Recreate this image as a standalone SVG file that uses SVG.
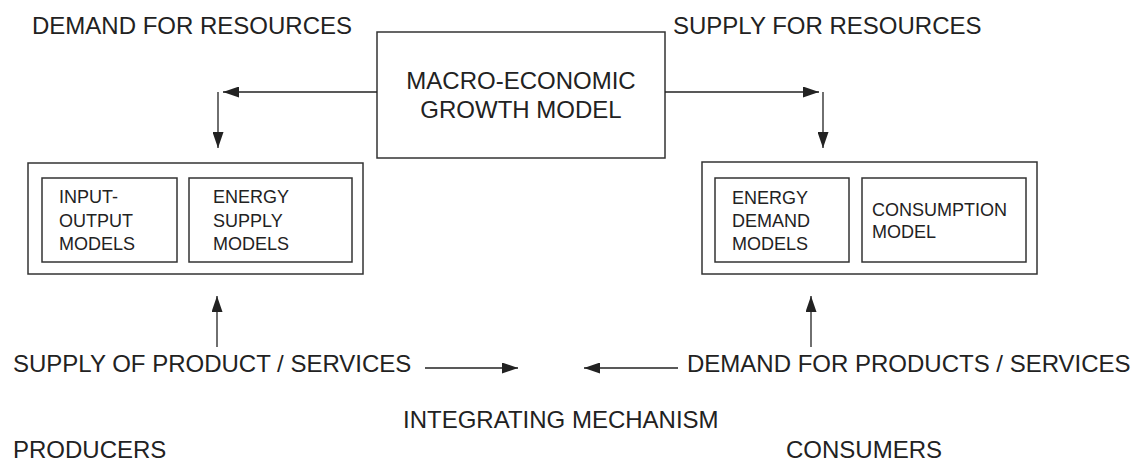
<svg xmlns="http://www.w3.org/2000/svg" width="1137" height="464" viewBox="0 0 1137 464">
<style>
  text { font-family: "Liberation Sans", Arial, sans-serif; fill: #222; }
  .big { font-size: 24px; }
  .small { font-size: 18px; }
  .box { fill: #fff; stroke: #333; stroke-width: 1.5; }
  .conn { fill: none; stroke: #222; stroke-width: 1.3; }
</style>
<defs>
  <marker id="arrow" viewBox="0 0 16 11" refX="16" refY="5.5" markerWidth="16" markerHeight="11" markerUnits="userSpaceOnUse" orient="auto">
    <path d="M0,0 L16,5.5 L0,11 z" fill="#222"/>
  </marker>
</defs>
<rect width="1137" height="464" fill="#fff"/>

<g id="labels">
  <text class="big" x="32" y="34">DEMAND FOR RESOURCES</text>
  <text class="big" x="673" y="34">SUPPLY FOR RESOURCES</text>
  <text class="big" x="13" y="372">SUPPLY OF PRODUCT / SERVICES</text>
  <text class="big" x="687" y="372">DEMAND FOR PRODUCTS / SERVICES</text>
  <text class="big" x="403" y="428">INTEGRATING MECHANISM</text>
  <text class="big" x="13" y="458">PRODUCERS</text>
  <text class="big" x="786" y="458">CONSUMERS</text>
</g>

<g id="macro-model">
  <rect class="box" x="377" y="32" width="288" height="126"/>
  <text class="big" x="521" y="89" text-anchor="middle">MACRO-ECONOMIC</text>
  <text class="big" x="521" y="118" text-anchor="middle">GROWTH MODEL</text>
</g>

<g id="producer-models">
  <rect class="box" x="28" y="163" width="335" height="111"/>
  <g id="input-output">
    <rect class="box" x="42" y="178" width="135" height="84"/>
    <text class="small" x="59" y="203">INPUT-</text>
    <text class="small" x="59" y="226.5">OUTPUT</text>
    <text class="small" x="59" y="249.5">MODELS</text>
  </g>
  <g id="energy-supply">
    <rect class="box" x="189" y="178" width="163" height="84"/>
    <text class="small" x="213" y="203">ENERGY</text>
    <text class="small" x="213" y="226.5">SUPPLY</text>
    <text class="small" x="213" y="249.5">MODELS</text>
  </g>
</g>

<g id="consumer-models">
  <rect class="box" x="702" y="162" width="335" height="112"/>
  <g id="energy-demand">
    <rect class="box" x="715" y="178" width="134" height="84"/>
    <text class="small" x="732" y="204">ENERGY</text>
    <text class="small" x="732" y="227">DEMAND</text>
    <text class="small" x="732" y="250">MODELS</text>
  </g>
  <g id="consumption">
    <rect class="box" x="862" y="178" width="164" height="84"/>
    <text class="small" x="872" y="216">CONSUMPTION</text>
    <text class="small" x="872" y="238">MODEL</text>
  </g>
</g>

<g id="connectors">
  <line class="conn" x1="377" y1="92" x2="223" y2="92" marker-end="url(#arrow)"/>
  <line class="conn" x1="218" y1="92" x2="218" y2="148" marker-end="url(#arrow)"/>
  <line class="conn" x1="665" y1="92" x2="819" y2="92" marker-end="url(#arrow)"/>
  <line class="conn" x1="823" y1="92" x2="823" y2="148" marker-end="url(#arrow)"/>
  <line class="conn" x1="217" y1="347" x2="217" y2="296" marker-end="url(#arrow)"/>
  <line class="conn" x1="811" y1="347" x2="811" y2="296" marker-end="url(#arrow)"/>
  <line class="conn" x1="425" y1="368" x2="518" y2="368" marker-end="url(#arrow)"/>
  <line class="conn" x1="678" y1="368" x2="584" y2="368" marker-end="url(#arrow)"/>
</g>
</svg>
